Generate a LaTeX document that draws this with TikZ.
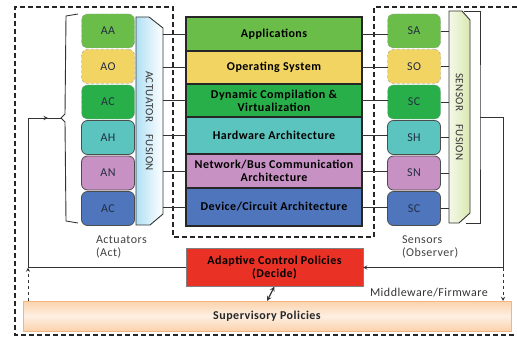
\documentclass[tikz,border=0pt]{standalone}
\usepackage{fontspec}
\setmainfont{Carlito}[LetterSpace=4]
\usetikzlibrary{shapes,backgrounds,decorations.markings}
\usetikzlibrary{calc,positioning}
\definecolor{appgreen}{RGB}{106,189,72}
\definecolor{osyellow}{RGB}{242,212,98}
\definecolor{dyngreen}{RGB}{41,175,74}
\definecolor{hwteal}{RGB}{91,196,190}
\definecolor{netpink}{RGB}{200,145,196}
\definecolor{devblue}{RGB}{79,117,188}
\definecolor{ctrlred}{RGB}{234,49,38}
\definecolor{actblue}{RGB}{176,224,244}
\definecolor{sengreen}{RGB}{218,232,178}
\definecolor{supfill}{RGB}{251,210,172}
\definecolor{supedge}{RGB}{244,182,128}
\definecolor{boxtext}{RGB}{35,45,65}

\begin{document}
\fontsize{12}{13}\selectfont
\begin{tikzpicture}[x=1pt, y=-1pt, >=stealth, every node/.style={inner sep=0pt, outer sep=0pt},
    layer/.style={draw=black!85, line width=1.2pt, minimum width=176pt, align=center, font=\bfseries},
    unit/.style={rounded corners=6pt, minimum width=53pt, minimum height=34pt, text=boxtext},
    soft/.style={unit, draw=black!40, densely dashed},
    hard/.style={unit, draw=black!70, line width=0.8pt},
    fusion/.style={minimum width=27pt, minimum height=208pt},
    wire/.style={black!80, line width=0.9pt},
    frame/.style={dash pattern=on 5pt off 3pt, line width=1.1pt, black!85},
    midarrow/.style={decoration={markings, mark=at position 0.6 with {\arrow{>}}}, postaction=decorate}]
    \useasboundingbox (0,0) rectangle (517,337);
    \draw[frame] (517,7) -- (374,7) -- (374,237) -- (173,237) -- (173,7) -- (15,7) -- (15,335) -- (517,335);

    \node[layer, fill=appgreen, minimum height=34pt] (app) at (274,34) {Applications};
    \node[layer, fill=osyellow, minimum height=33pt, below=0pt of app] (os) {Operating System};
    \node[layer, fill=dyngreen, minimum height=33pt, below=0pt of os] (dyn) {Dynamic Compilation \&\\Virtualization};
    \node[layer, fill=hwteal, minimum height=37pt, below=0pt of dyn] (hw) {Hardware Architecture};
    \node[layer, fill=netpink, minimum height=34pt, below=0pt of hw] (net) {Network/Bus Communication\\Architecture};
    \node[layer, fill=devblue, minimum height=38pt, below=0pt of net] (dev) {Device/Circuit Architecture};

    \node[soft, fill=appgreen] (aa) at (108,31) {AA};
    \node[soft, fill=osyellow, below=1.5pt of aa] (ao) {AO};
    \node[soft, fill=dyngreen, below=1.5pt of ao] (ac) {AC};
    \node[hard, fill=hwteal, below=1.5pt of ac] (ah) {AH};
    \node[hard, fill=netpink, below=1.5pt of ah] (an) {AN};
    \node[hard, fill=devblue, below=1.5pt of an] (ad) {AC};

    \node[soft, fill=appgreen] (sa) at (414,31) {SA};
    \node[soft, fill=osyellow, below=1.5pt of sa] (so) {SO};
    \node[soft, fill=dyngreen, below=1.5pt of so] (sc) {SC};
    \node[hard, fill=hwteal, below=1.5pt of sc] (sh) {SH};
    \node[hard, fill=netpink, below=1.5pt of sh] (sn) {SN};
    \node[hard, fill=devblue, below=1.5pt of sn] (sd) {SC};

    \node[fusion] (afus) at (149.5,121) {};
    \draw[wire, left color=actblue, right color=white] (afus.north west) -- ([xshift=-14pt]afus.north east) -- ([yshift=-11pt]afus.north east)
        -- ([yshift=11pt]afus.south east) -- ([xshift=-13pt]afus.south east) -- (afus.south west) -- cycle;
    \node[rotate=-90, font=\fontsize{11}{13}\selectfont, text=black!80] at (afus) {ACTUATOR\hspace{12pt}FUSION};

    \node[fusion, minimum width=21pt, minimum height=212pt] (sfus) at (459.5,117) {};
    \draw[wire, left color=white!70!sengreen, right color=sengreen] (sfus.north west) -- ([xshift=-8pt]sfus.north east) -- ([yshift=-9pt]sfus.north east)
        -- ([yshift=10pt]sfus.south east) -- ([xshift=-11pt]sfus.south east) -- (sfus.south west) -- cycle;
    \node[rotate=-90, font=\fontsize{11}{13}\selectfont, text=black!80] at (sfus) {SENSOR\hspace{13pt}FUSION};

    \draw[wire] (app.west) -- (app.west -| afus.east) (app.east) -- (app.east -| sa.west) (sa.east) -- (sa.east -| sfus.west);
    \draw[wire] (os.west) -- (os.west -| afus.east) (os.east) -- (os.east -| so.west) (so.east) -- (so.east -| sfus.west);
    \draw[wire] (dyn.west) -- (dyn.west -| afus.east) (dyn.east) -- (dyn.east -| sc.west) (sc.east) -- (sc.east -| sfus.west);
    \draw[wire] (hw.west) -- (hw.west -| afus.east) (hw.east) -- (hw.east -| sh.west) (sh.east) -- (sh.east -| sfus.west);
    \draw[wire] (net.west) -- (net.west -| afus.east) (net.east) -- (net.east -| sn.west) (sn.east) -- (sn.east -| sfus.west);
    \draw[wire] (dev.west) -- (dev.west -| afus.east) (dev.east) -- (dev.east -| sd.west) (sd.east) -- (sd.east -| sfus.west);

    \node[layer, draw=black!50, line width=0.8pt, fill=ctrlred, minimum width=177pt, minimum height=38pt] (adapt) at (274.5,267.5) {Adaptive Control Policies\\(Decide)};
    \node[draw=supedge, top color=supfill, bottom color=supfill, middle color=supfill!35, minimum width=488pt, minimum height=30pt, font=\bfseries, text=black!85] (superv) at (267,316) {Supervisory Policies};

    \node[anchor=north west, align=left, text=black!75] (actlbl) at (96,236) {Actuators\\(Act)};
    \node[anchor=north west, align=left, text=black!75] (senlbl) at (402,236) {Sensors\\(Observer)};
    \node[anchor=base west, text=black!80] (mwlbl) at (370,296) {Middleware/Firmware};

    \coordinate (lc) at (28,118);
    \coordinate (bt) at (61,118);
    \coordinate (sb) at (480,117);
    \coordinate (rc) at (503,267.5);
    \draw[wire] (78,14) -- (66,16) -- (65,114) -- (bt) -- (65,122) -- (66,221) -- (78,223);
    \draw[wire] (adapt.west) -| (lc);
    \draw[wire, midarrow] (lc) -- (bt);
    \draw[wire, dashed, ->] (superv.north -| lc) -- (adapt.west -| lc);
    \draw[wire] ([xshift=-6pt]sfus.north east) -| (sb) |- ([xshift=-4pt]sfus.south east);
    \draw[wire] (sb) -| (rc);
    \draw[wire, ->] (rc) -- (adapt.east);
    \draw[wire, dashed, ->] (rc) -- (rc |- superv.north);
    \draw[wire, <->, line width=1.2pt] (adapt.south) -- (superv.north);
\end{tikzpicture}
\end{document}
